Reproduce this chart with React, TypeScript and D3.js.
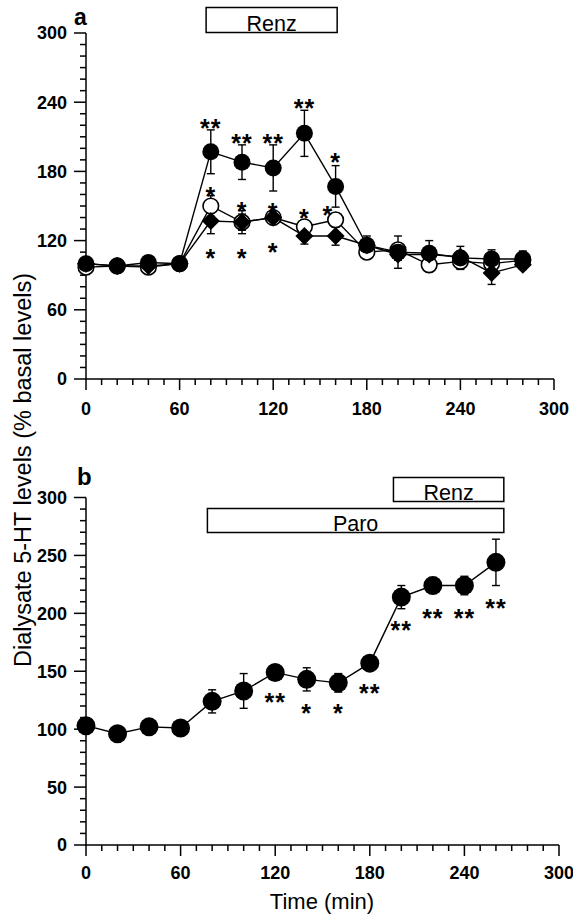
import * as d3 from 'd3'

// time points (min)
const timesA = [0, 20, 40, 60, 80, 100, 120, 140, 160, 180, 200, 220, 240, 260, 280]
const timesB = [0, 20, 40, 60, 80, 100, 120, 140, 160, 180, 200, 220, 240, 260]

// panel a, three series (mean and s.e.mean, % basal)
const filledA = [100, 98, 101, 100, 197, 188, 183, 213, 167, 116, 110, 109, 105, 104, 104]
const filledASe = [3, 3, 4, 3, 19, 15, 20, 20, 18, 8, 14, 11, 10, 8, 7]
const openA = [97, 98, 97, 100, 150, 136, 140, 132, 138, 110, 112, 99, 102, 100, 103]
const openASe = [3, 3, 3, 3, 9, 7, 5, 6, 6, 4, 4, 4, 4, 4, 4]
const diamondA = [100, 98, 98, 100, 137, 136, 140, 124, 124, 116, 108, 108, 106, 92, 99]
const diamondASe = [3, 3, 3, 3, 11, 10, 5, 7, 8, 4, 5, 4, 5, 10, 4]

// panel b, paroxetine + renzapride
const filledB = [103, 96, 102, 101, 124, 133, 149, 143, 140, 157, 214, 224, 224, 244]
const filledBSe = [2, 2, 2, 2, 10, 15, 3, 10, 8, 3, 10, 7, 8, 20]

// significance marks: [time, value at mark centre, label]
const starsA: [number, number, string][] = [
  [80, 223, '**'], [100, 210, '**'], [120, 210, '**'], [140, 240, '**'], [160, 193, '*'],
  [80, 164, '*'], [100, 151, '*'], [120, 150, '*'], [140, 145, '*'], [155, 147, '*'],
  [80, 110, '*'], [100, 110, '*'], [120, 115, '*'],
]
const starsB: [number, number, string][] = [
  [120, 129, '**'], [140, 119, '*'], [160, 119, '*'], [180, 136, '**'],
  [200, 191, '**'], [220, 201, '**'], [240, 201, '**'], [260, 210, '**'],
]

// drug application periods: [start, end, label]
const drugsA: [number, number, string][] = [[77, 161, 'Renz']]
const drugsB: [number, number, string][] = [[195, 265, 'Renz'], [77, 265, 'Paro']]

const xTicks = [0, 60, 120, 180, 240, 300]
const yTicksA = [0, 60, 120, 180, 240, 300]
const yTicksB = [0, 50, 100, 150, 200, 250, 300]

const FONT = '"Liberation Sans", Arial, Helvetica, sans-serif'
const minor = d3.range(0, 301, 10)

type Scale = d3.ScaleLinear<number, number>

function Axes({ x, y, yTicks, labelY }: { x: Scale; y: Scale; yTicks: number[]; labelY: number }) {
  const x0 = x(0)
  const y0 = y(0)
  const step = yTicks[1] - yTicks[0]
  return (
    <g stroke="#000" strokeWidth={1.5} fill="none">
      <line x1={x0} x2={x0} y1={y(0) + 0.75} y2={y(300)} />
      <line x1={x0} x2={x(300)} y1={y0} y2={y0} />
      {minor.map(v => (
        <line key={'ym' + v} x1={x0 - (v % step === 0 ? 12 : 6)} x2={x0} y1={y(v)} y2={y(v)} />
      ))}
      {minor.map(v => (
        <line key={'xm' + v} x1={x(v)} x2={x(v)} y1={y0} y2={y0 + (v % 60 === 0 ? 11 : 6)} />
      ))}
      <g stroke="none" fill="#000" fontFamily={FONT} fontWeight="bold" fontSize={18}>
        {yTicks.map(v => (
          <text key={'yl' + v} x={x0 - 19} y={y(v)} dy="0.36em" textAnchor="end">{v}</text>
        ))}
        {xTicks.map(v => (
          <text key={'xl' + v} x={x(v)} y={labelY} textAnchor="middle">{v}</text>
        ))}
      </g>
    </g>
  )
}

function Series({ x, y, times, values, se }: {
  x: Scale; y: Scale; times: number[]; values: number[]; se: number[]
}) {
  const pts = times.map((t, i) => ({ t, v: values[i], s: se[i] }))
  const line = d3.line<{ t: number; v: number }>().x(d => x(d.t)).y(d => y(d.v))
  return (
    <g>
      <path d={line(pts) ?? ''} fill="none" stroke="#000" strokeWidth={1.4} />
      <g stroke="#000" strokeWidth={1.4}>
        {pts.map(d => (
          <g key={'e' + d.t}>
            <line x1={x(d.t)} x2={x(d.t)} y1={y(d.v + d.s)} y2={y(d.v - d.s)} />
            <line x1={x(d.t) - 4} x2={x(d.t) + 4} y1={y(d.v + d.s)} y2={y(d.v + d.s)} />
            <line x1={x(d.t) - 4} x2={x(d.t) + 4} y1={y(d.v - d.s)} y2={y(d.v - d.s)} />
          </g>
        ))}
      </g>
    </g>
  )
}

function Markers({ x, y, times, values, kind, r }: {
  x: Scale; y: Scale; times: number[]; values: number[]; kind: 'filled' | 'open' | 'diamond'; r: number
}) {
  return (
    <g>
      {times.map((t, i) => {
        const cx = x(t)
        const cy = y(values[i])
        if (kind === 'diamond') {
          return <path key={t} d={`M${cx},${cy - r}L${cx + r},${cy}L${cx},${cy + r}L${cx - r},${cy}Z`} fill="#000" />
        }
        if (kind === 'open') {
          return <circle key={t} cx={cx} cy={cy} r={r} fill="#fff" stroke="#000" strokeWidth={1.6} />
        }
        return <circle key={t} cx={cx} cy={cy} r={r} fill="#000" />
      })}
    </g>
  )
}

function Stars({ x, y, stars }: { x: Scale; y: Scale; stars: [number, number, string][] }) {
  return (
    <g fontFamily={FONT} fontWeight="bold" fontSize={25} fill="#000">
      {stars.map(([t, v, label], i) => (
        <text key={i} x={x(t)} y={y(v)} dy="0.6em" textAnchor="middle" letterSpacing={1}>{label}</text>
      ))}
    </g>
  )
}

function DrugBar({ x, start, end, label, top, h }: { x: Scale; start: number; end: number; label: string; top: number; h: number }) {
  return (
    <g>
      <rect x={x(start)} y={top} width={x(end) - x(start)} height={h} fill="#fff" stroke="#000" strokeWidth={1.5} />
      <text x={(x(start) + x(end)) / 2} y={top + h - 2} textAnchor="middle" fontFamily={FONT} fontSize={21.5} fill="#000">{label}</text>
    </g>
  )
}

export default function App() {
  const xA = d3.scaleLinear().domain([0, 300]).range([86, 554])
  const yA = d3.scaleLinear().domain([0, 300]).range([379, 33])
  const xB = d3.scaleLinear().domain([0, 300]).range([86, 559])
  const yB = d3.scaleLinear().domain([0, 300]).range([845, 497.5])

  return (
    <svg width={573} height={914} style={{ position: 'absolute', left: 0, top: 0, background: '#fff' }}>
      <rect width={573} height={914} fill="#fff" />

      {/* panel a */}
      <text x={74} y={25} fontFamily={FONT} fontWeight="bold" fontSize={23}>a</text>
      {drugsA.map(([s, e, l]) => <DrugBar key={l} x={xA} start={s} end={e} label={l} top={7.5} h={25} />)}
      <Axes x={xA} y={yA} yTicks={yTicksA} labelY={415} />
      <Series x={xA} y={yA} times={timesA} values={filledA} se={filledASe} />
      <Series x={xA} y={yA} times={timesA} values={openA} se={openASe} />
      <Series x={xA} y={yA} times={timesA} values={diamondA} se={diamondASe} />
      <Markers x={xA} y={yA} times={timesA} values={openA} kind="open" r={7.8} />
      <Markers x={xA} y={yA} times={timesA} values={diamondA} kind="diamond" r={9} />
      <Markers x={xA} y={yA} times={timesA} values={filledA} kind="filled" r={8.5} />
      <Stars x={xA} y={yA} stars={starsA} />

      {/* panel b */}
      <text x={77} y={485} fontFamily={FONT} fontWeight="bold" fontSize={24}>b</text>
      {drugsB.map(([s, e, l], i) => (
        <DrugBar key={l} x={xB} start={s} end={e} label={l} top={i === 0 ? 477.5 : 508.5} h={24} />
      ))}
      <Axes x={xB} y={yB} yTicks={yTicksB} labelY={879} />
      <Series x={xB} y={yB} times={timesB} values={filledB} se={filledBSe} />
      <Markers x={xB} y={yB} times={timesB} values={filledB} kind="filled" r={9.5} />
      <Stars x={xB} y={yB} stars={starsB} />

      {/* axis titles */}
      <text transform="translate(31,470) rotate(-90)" textAnchor="middle" fontFamily={FONT} fontSize={23.5} fill="#000">
        Dialysate 5-HT levels (% basal levels)
      </text>
      <text x={322} y={909} textAnchor="middle" fontFamily={FONT} fontSize={22} fill="#000">Time (min)</text>
    </svg>
  )
}
